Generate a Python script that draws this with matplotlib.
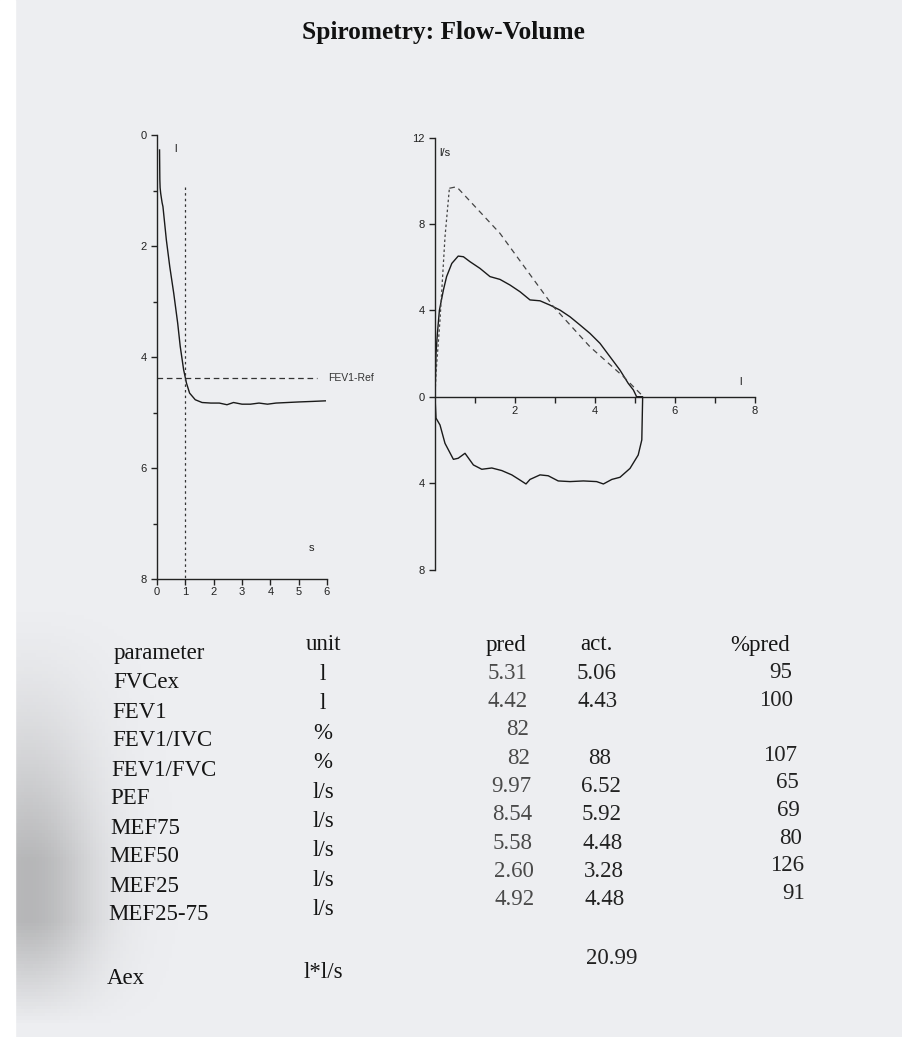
import numpy as np
import matplotlib.pyplot as plt
from matplotlib.patches import Rectangle
from matplotlib.ticker import FixedLocator, FuncFormatter

plt.rcParams['font.family'] = ['Liberation Sans', 'DejaVu Sans']

W, H = 903, 1037

# ---- volume-time curve (left)
vt_time = [0.09, 0.10, 0.11, 0.13, 0.15, 0.18, 0.21, 0.33, 0.45, 0.59, 0.73, 0.82,
           0.94, 1.04, 1.15, 1.35, 1.59, 1.9, 2.2, 2.47, 2.7, 3.0, 3.3, 3.6, 3.9,
           4.2, 4.6, 5.0, 5.5, 5.94]
vt_vol = [0.27, 0.80, 0.95, 1.05, 1.12, 1.22, 1.29, 1.89, 2.37, 2.85, 3.39, 3.81,
          4.23, 4.47, 4.65, 4.77, 4.82, 4.83, 4.83, 4.86, 4.82, 4.85, 4.85, 4.83, 4.85,
          4.83, 4.82, 4.81, 4.80, 4.79]
fev1_ref = 4.38      # FEV1-Ref volume, l
fev1_ref_end = 5.65  # end of the reference line, s
fev1_time = 1.0      # s
fev1_mark_top = 0.93

# ---- flow-volume loop (right)
exp_vol = [0, 0.025, 0.06, 0.11, 0.21, 0.29, 0.42, 0.58, 0.71, 0.875, 1.125, 1.375,
           1.625, 1.875, 2.125, 2.375, 2.625, 2.875, 3.125, 3.375, 3.625, 3.875,
           4.125, 4.375, 4.625, 4.83, 4.96, 5.04]
exp_flow = [0, 2.0, 2.93, 4.0, 4.94, 5.56, 6.17, 6.51, 6.48, 6.25, 5.94, 5.56,
            5.43, 5.17, 4.86, 4.48, 4.44, 4.24, 4.01, 3.70, 3.32, 2.93,
            2.47, 1.85, 1.23, 0.62, 0.31, 0]
insp_vol = [5.04, 5.19, 5.19, 5.17, 5.08, 4.875, 4.625, 4.42, 4.21, 4.04, 3.71, 3.375,
            3.08, 2.83, 2.625, 2.375, 2.275, 2.125, 1.92, 1.67, 1.42, 1.17, 0.96,
            0.75, 0.58, 0.46, 0.25, 0.125, 0.025, 0]
insp_flow = [0, 0, -0.15, -2.0, -2.7, -3.32, -3.73, -3.83, -4.04, -3.93, -3.9, -3.93,
             -3.9, -3.66, -3.62, -3.83, -4.04, -3.86, -3.62, -3.42, -3.3, -3.36, -3.16,
             -2.62, -2.85, -2.9, -2.16, -1.31, -0.99, 0]
pred_vol = [0, 0.025, 0.125, 0.25, 0.36, 0.54, 1.625, 2.96, 3.875, 4.71, 5.21]
pred_flow = [0, 1.08, 3.55, 7.4, 9.65, 9.72, 7.56, 4.17, 2.31, 0.93, 0]

# ---- table
params = ['FVCex', 'FEV1', 'FEV1/IVC', 'FEV1/FVC', 'PEF', 'MEF75', 'MEF50', 'MEF25', 'MEF25-75']
units = ['l', 'l', '%', '%', 'l/s', 'l/s', 'l/s', 'l/s', 'l/s']
pred = ['5.31', '4.42', '82', '82', '9.97', '8.54', '5.58', '2.60', '4.92']
act = ['5.06', '4.43', '', '88', '6.52', '5.92', '4.48', '3.28', '4.48']
pct_pred = ['95', '100', '', '107', '65', '69', '80', '126', '91']
headers = ['parameter', 'unit', 'pred', 'act.', '%pred']
aex_unit = 'l*l/s'
aex_act = '20.99'

fig = plt.figure(figsize=(W / 100, H / 100), dpi=100)
fig.patch.set_facecolor('#edeef1')


def fx(x):
    return x / W


def fy(y):
    return 1 - y / H


# photo look: white margin left of the sheet, soft shadow on its lower-left part
bg = fig.add_axes([0, 0, 1, 1], zorder=-10)
gx, gy = np.meshgrid(np.linspace(0, 1, 300), np.linspace(0, 1, 300))
band = np.exp(-((gx - 0.03) / 0.075) ** 2) * np.clip((0.42 - gy) / 0.25, 0, 1) ** 1.5
band *= np.clip((gy - 0.01) / 0.1, 0, 1)
rgba = np.zeros(band.shape + (4,))
rgba[..., :3] = 0.5
rgba[..., 3] = band * 0.5
bg.imshow(rgba, extent=[0, 1, 0, 1], origin='lower', aspect='auto')
bg.add_patch(Rectangle((0, 0), fx(15), 1, color='white', zorder=3))
bg.set_xlim(0, 1)
bg.set_ylim(0, 1)
bg.axis('off')

tick_kw = dict(direction='out', length=4, width=1, labelsize=8, colors='#222222')

# ------------------------- volume - time
ax1 = fig.add_axes([fx(157), fy(579), fx(170), 444 / H])
ax1.patch.set_alpha(0)
ax1.plot(vt_time, vt_vol, color='#1a1a1a', lw=1.0)
ax1.plot([0, fev1_ref_end], [fev1_ref, fev1_ref], color='#333333', lw=0.9, dashes=(4.5, 3))
ax1.plot([fev1_time, fev1_time], [fev1_mark_top, 8], color='#333333', lw=0.9, dashes=(2, 2.5))
ax1.set_xlim(0, 6)
ax1.set_ylim(8, 0)
for s in ['top', 'right']:
    ax1.spines[s].set_visible(False)
for s in ['left', 'bottom']:
    ax1.spines[s].set_linewidth(1.0)
    ax1.spines[s].set_color('#222222')
ax1.set_xticks(range(0, 7))
ax1.set_yticks([0, 2, 4, 6, 8])
ax1.yaxis.set_minor_locator(FixedLocator([1, 3, 5, 7]))
ax1.tick_params(which='both', **tick_kw)
ax1.tick_params(which='minor', length=3)
ax1.tick_params(axis='x', pad=2)
ax1.text(0.62, 0.25, 'l', fontsize=8, color='#222222', va='center')
ax1.text(5.35, 7.45, 's', fontsize=8, color='#222222', va='center')
ax1.text(6.05, fev1_ref, 'FEV1-Ref', fontsize=7.5, color='#333333', va='center',
         clip_on=False)

# ------------------------- flow - volume
ax2 = fig.add_axes([fx(435), fy(569.5), fx(320), 432 / H])
ax2.patch.set_alpha(0)
ax2.plot(exp_vol, exp_flow, color='#1a1a1a', lw=1.0)
ax2.plot(insp_vol, insp_flow, color='#1a1a1a', lw=1.0)
ax2.plot(pred_vol[:5], pred_flow[:5], color='#444444', lw=0.9, dashes=(2, 2))
ax2.plot(pred_vol[4:], pred_flow[4:], color='#444444', lw=0.9, dashes=(4.5, 3.5))
ax2.set_xlim(0, 8)
ax2.set_ylim(-8, 12)
for s in ['top', 'right']:
    ax2.spines[s].set_visible(False)
ax2.spines['bottom'].set_position(('data', 0))
for s in ['left', 'bottom']:
    ax2.spines[s].set_linewidth(1.0)
    ax2.spines[s].set_color('#222222')
ax2.set_xticks([2, 4, 6, 8])
ax2.xaxis.set_minor_locator(FixedLocator([1, 3, 5, 7]))
ax2.set_yticks([-8, -4, 0, 4, 8, 12])
ax2.yaxis.set_major_formatter(FuncFormatter(lambda v, p: '%d' % abs(v)))
ax2.tick_params(which='both', **tick_kw)
ax2.tick_params(which='minor', length=4)
ax2.tick_params(axis='x', pad=3)
ax2.text(0.1, 11.3, 'l/s', fontsize=8, color='#222222', va='center')
ax2.text(7.6, 0.7, 'l', fontsize=8, color='#222222', va='center')

# ------------------------- title
fig.text(fx(443), fy(33), 'Spirometry: Flow-Volume', ha='center', va='center',
         fontsize=18.3, fontweight='bold', family='Liberation Serif', color='#111111')

# ------------------------- table
tfont = dict(family='Liberation Serif', fontsize=16.5, va='center')
# (x0, x drift per row, y0, row step, alignment, colour) - rows drift with the photo angle
cols = [
    (114, -0.65, 654, 29.0, 'left', '#151515'),
    (323, 0.0, 645, 29.4, 'center', '#151515'),
    (526, 1.0, 645, 28.3, 'right', '#4a4a4a'),
    (596, 1.0, 645, 28.3, 'center', '#222222'),
    (790, 1.7, 645, 27.6, 'right', '#222222'),
]
col_values = [params, units, pred, act, pct_pred]
for (x0, dx, y0, dy, ha, c), head, vals in zip(cols, headers, col_values):
    fig.text(fx(x0), fy(y0), head, ha=ha, color='#151515', **tfont)
    for i, v in enumerate(vals, start=1):
        fig.text(fx(x0 + dx * i), fy(y0 + dy * i), v, ha=ha, color=c, **tfont)

fig.text(fx(107), fy(978), 'Aex', ha='left', color='#151515', **tfont)
fig.text(fx(323), fy(973), aex_unit, ha='center', color='#151515', **tfont)
fig.text(fx(612), fy(958), aex_act, ha='center', color='#222222', **tfont)

fig.savefig('out.png', dpi=100, facecolor=fig.get_facecolor())
